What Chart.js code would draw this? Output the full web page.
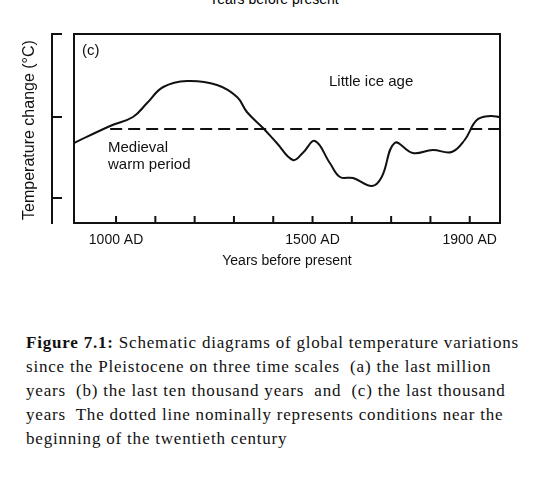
<!DOCTYPE html>
<html>
<head>
<meta charset="utf-8">
<script src="https://cdn.jsdelivr.net/npm/chart.js@4/dist/chart.umd.min.js"></script>
<style>
  body { margin: 0; background: #fff; width: 548px; height: 493px; position: relative; overflow: hidden; }
  #wrap { position: absolute; left: 0; top: 0; width: 548px; height: 270px; }
  #top { position: absolute; top: -9px; left: 0; width: 548px; text-align: center; font: 14px "Liberation Sans", Arial, sans-serif; }
  #cap { position: absolute; left: 26px; top: 331px; width: 520px; white-space: nowrap; font: 17px "Liberation Serif", "Times New Roman", serif; letter-spacing: 0.8px; line-height: 24px; color: #111; }
</style>
</head>
<body>
<div id="top">Years before present</div>
<div id="wrap"><canvas id="myChart"></canvas></div>
<div id="cap"><b>Figure 7.1:</b> Schematic diagrams of global temperature variations<br>since the Pleistocene on three time scales&nbsp; (a) the last million<br>years&nbsp; (b) the last ten thousand years&nbsp; and&nbsp; (c) the last thousand<br>years&nbsp; The dotted line nominally represents conditions near the<br>beginning of the twentieth century</div>
<script>
const years = [893, 985, 1043, 1079, 1120, 1181, 1257, 1308, 1333, 1374, 1409, 1450, 1475, 1506, 1544, 1570, 1603, 1651, 1676, 1709, 1755, 1806, 1854, 1887, 1918, 1951, 1977]
const temps = [0.80, 0.97, 1.06, 1.20, 1.36, 1.42, 1.38, 1.26, 1.11, 0.95, 0.80, 0.63, 0.70, 0.82, 0.60, 0.46, 0.45, 0.37, 0.46, 0.80, 0.70, 0.73, 0.71, 0.83, 1.03, 1.07, 1.06]
const refYears = [985, 1977]
const refLevel = 0.94
const centuryTicks = [1000, 1100, 1200, 1300, 1400, 1500, 1600, 1700, 1800, 1900]
const labelledYears = [1000, 1500, 1900]
const tempTicks = [1.89, 1.06, 0.25]

const font = '"Liberation Sans", Arial, sans-serif'

//frame, tick marks and annotations
const decorations = {
  id: 'decorations',
  afterDraw(chart) {
    const ctx = chart.ctx
    const a = chart.chartArea
    const x = chart.scales.x
    const y = chart.scales.y
    ctx.save()
    ctx.strokeStyle = '#111'
    ctx.lineWidth = 2
    ctx.strokeRect(a.left, a.top, a.right - a.left, a.bottom - a.top)
    ctx.beginPath()
    centuryTicks.forEach(t => {
      const px = x.getPixelForValue(t)
      ctx.moveTo(px, a.bottom)
      ctx.lineTo(px, a.bottom - 7)
    })
    // separate left axis bracket
    ctx.moveTo(52, a.top)
    ctx.lineTo(52, a.bottom + 1)
    tempTicks.forEach(v => {
      const py = y.getPixelForValue(v)
      ctx.moveTo(51, py)
      ctx.lineTo(62, py)
    })
    ctx.stroke()

    ctx.fillStyle = '#111'
    ctx.font = '15px ' + font
    ctx.textBaseline = 'middle'
    ctx.fillText('(c)', 82, 51)
    ctx.fillText('Little ice age', 329, 82)
    ctx.fillText('Medieval', 108, 148)
    ctx.fillText('warm period', 108, 165)
    ctx.font = '16px ' + font
    ctx.translate(30, 130)
    ctx.rotate(-Math.PI / 2)
    ctx.textAlign = 'center'
    ctx.fillText('Temperature change (°C)', 0, 0)
    ctx.restore()
  }
}

new Chart(document.getElementById('myChart'), {
  type: 'line',
  data: {
    datasets: [{
      data: years.map((yr, i) => ({ x: yr, y: temps[i] })),
      borderColor: '#111',
      borderWidth: 2,
      pointRadius: 0,
      tension: 0.4
    }, {
      data: refYears.map(yr => ({ x: yr, y: refLevel })),
      borderColor: '#111',
      borderWidth: 2,
      borderDash: [12, 6],
      pointRadius: 0
    }]
  },
  options: {
    responsive: true,
    maintainAspectRatio: false,
    animation: false,
    layout: { padding: { left: 74, right: 48, top: 34, bottom: 0 } },
    plugins: { legend: { display: false }, tooltip: { enabled: false } },
    scales: {
      x: {
        type: 'linear',
        min: 893,
        max: 1977,
        afterBuildTicks: s => { s.ticks = centuryTicks.map(v => ({ value: v })) },
        afterFit: s => { s.height = 47 },
        grid: { display: false, drawTicks: false },
        border: { display: false },
        ticks: {
          padding: 9,
          color: '#111',
          autoSkip: false,
          maxRotation: 0,
          minRotation: 0,
          font: { family: font, size: 14 },
          callback: v => labelledYears.includes(v) ? v + ' AD' : ''
        },
        title: { display: true, text: 'Years before present', color: '#111', padding: 0, font: { family: font, size: 14 } }
      },
      y: { display: false, min: 0, max: 1.89 }
    }
  },
  plugins: [decorations]
})
</script>
</body>
</html>
